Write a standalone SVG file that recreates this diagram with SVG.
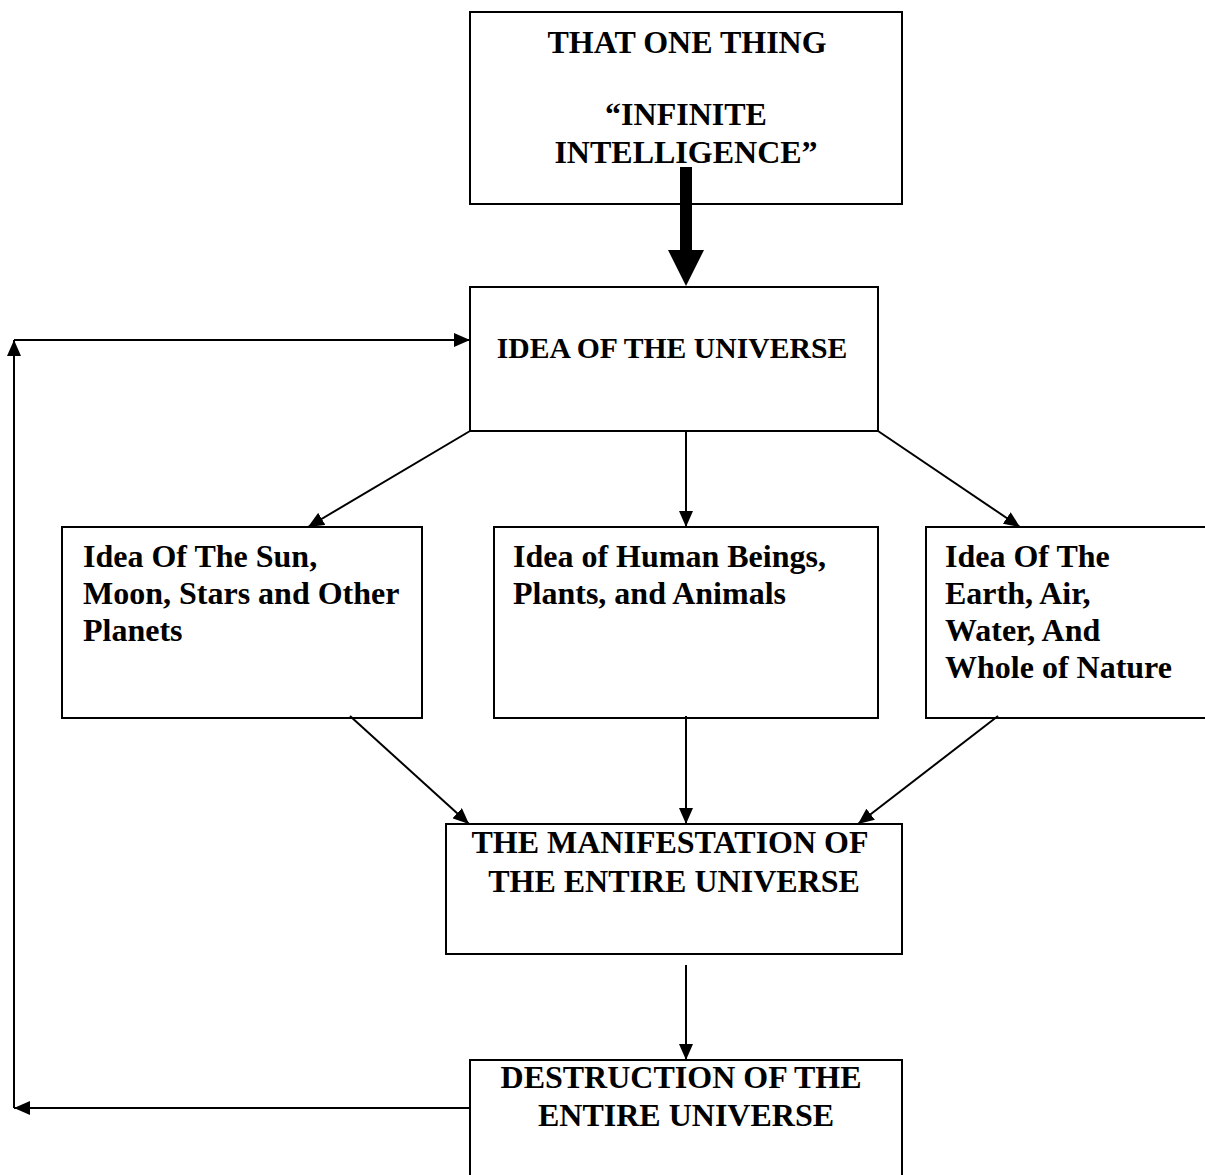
<svg xmlns="http://www.w3.org/2000/svg" width="1205" height="1175" viewBox="0 0 1205 1175">
<defs>
<style>
.box{fill:#fff;stroke:#000;stroke-width:2}
.t{font-family:"Liberation Serif","Times New Roman",serif;font-weight:bold;font-size:32px;fill:#000}
.c{text-anchor:middle}
.ln{stroke:#000;stroke-width:2;fill:none}
</style>
<marker id="ah" viewBox="0 0 16 14" refX="16" refY="7" markerWidth="16" markerHeight="14" markerUnits="userSpaceOnUse" orient="auto">
<path d="M0,0 L16,7 L0,14 Z" fill="#000"/>
</marker>
</defs>
<rect width="1205" height="1175" fill="#fff"/>
<g id="n-that-one-thing">
<rect class="box" x="470" y="12" width="432" height="192"/>
<text class="t c" x="687" y="53">THAT ONE THING</text>
<text class="t c" x="686" y="125">“INFINITE</text>
<text class="t c" x="686" y="163">INTELLIGENCE”</text>
</g>
<g id="n-idea-universe">
<rect class="box" x="470" y="287" width="408" height="144"/>
<text class="t c" x="672" y="358" style="font-size:29.7px">IDEA OF THE UNIVERSE</text>
</g>
<g id="n-idea-sun">
<rect class="box" x="62" y="527" width="360" height="191"/>
<text class="t" x="83" y="567">Idea Of The Sun,</text>
<text class="t" x="83" y="604">Moon, Stars and Other</text>
<text class="t" x="83" y="641">Planets</text>
</g>
<g id="n-idea-human">
<rect class="box" x="494" y="527" width="384" height="191"/>
<text class="t" x="513" y="567">Idea of Human Beings,</text>
<text class="t" x="513" y="604">Plants, and Animals</text>
</g>
<g id="n-idea-earth">
<rect class="box" x="926" y="527" width="300" height="191"/>
<text class="t" x="945" y="567">Idea Of The</text>
<text class="t" x="945" y="604">Earth, Air,</text>
<text class="t" x="945" y="641">Water, And</text>
<text class="t" x="945" y="678">Whole of Nature</text>
</g>
<g id="n-manifestation">
<rect class="box" x="446" y="824" width="456" height="130"/>
<text class="t c" x="670" y="853">THE MANIFESTATION OF</text>
<text class="t c" x="674" y="892">THE ENTIRE UNIVERSE</text>
</g>
<g id="n-destruction">
<rect class="box" x="470" y="1060" width="432" height="140"/>
<text class="t c" x="681" y="1088">DESTRUCTION OF THE</text>
<text class="t c" x="686" y="1126">ENTIRE UNIVERSE</text>
</g>
<g id="connectors">
<rect x="680" y="167" width="12" height="84" fill="#000"/>
<path d="M668,250 L704,250 L686,286 Z" fill="#000"/>
<line class="ln" x1="470" y1="431" x2="308" y2="527" marker-end="url(#ah)"/>
<line class="ln" x1="686" y1="431" x2="686" y2="527" marker-end="url(#ah)"/>
<line class="ln" x1="878" y1="431" x2="1020" y2="527" marker-end="url(#ah)"/>
<line class="ln" x1="350" y1="716" x2="469" y2="824" marker-end="url(#ah)"/>
<line class="ln" x1="686" y1="716" x2="686" y2="824" marker-end="url(#ah)"/>
<line class="ln" x1="998" y1="716" x2="858" y2="824" marker-end="url(#ah)"/>
<line class="ln" x1="686" y1="965" x2="686" y2="1060" marker-end="url(#ah)"/>
<line class="ln" x1="470" y1="1108" x2="14" y2="1108" marker-end="url(#ah)"/>
<line class="ln" x1="14" y1="1108" x2="14" y2="340" marker-end="url(#ah)"/>
<line class="ln" x1="14" y1="340" x2="470" y2="340" marker-end="url(#ah)"/>
</g>
</svg>
